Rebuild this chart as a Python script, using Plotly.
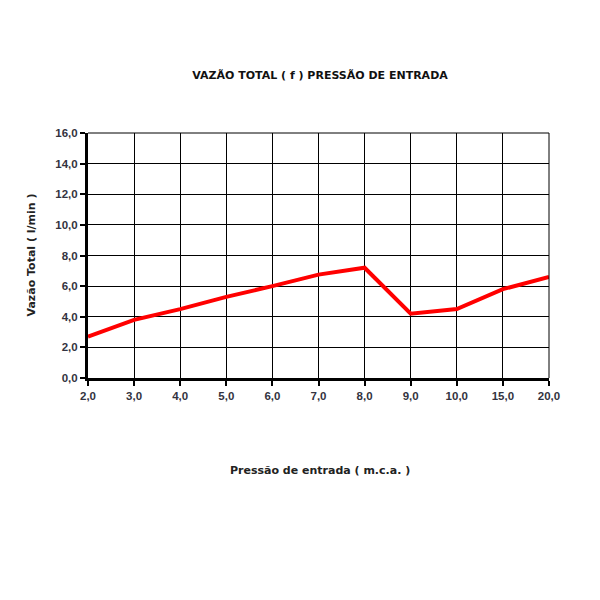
import plotly.graph_objects as go

# data
pressao = ["2,0", "3,0", "4,0", "5,0", "6,0", "7,0", "8,0", "9,0", "10,0", "15,0", "20,0"]
vazao = [2.7, 3.8, 4.5, 5.3, 6.0, 6.75, 7.2, 4.2, 4.5, 5.8, 6.6]
y_ticks = [0, 2, 4, 6, 8, 10, 12, 14, 16]
y_labels = ["0,0", "2,0", "4,0", "6,0", "8,0", "10,0", "12,0", "14,0", "16,0"]

fnt = "Liberation Sans, Arial, sans-serif"
tfnt = "DejaVu Sans, Verdana, sans-serif"

fig = go.Figure()
fig.add_trace(go.Scatter(x=pressao, y=vazao,
                         mode='lines',
                         line=dict(color='#ff0000', width=4),
                         showlegend=False))

# page body adds ~8px offset, margins compensate
fig.update_layout(
    width=600, height=600,
    margin=dict(l=80, r=59, t=125, b=230),
    paper_bgcolor='white',
    plot_bgcolor='white',
    title=dict(text="<b>VAZÃO TOTAL ( f ) PRESSÃO DE ENTRADA</b>",
               x=312 / 600, xanchor='center', y=1 - 67 / 600, yanchor='middle',
               font=dict(family=tfnt, size=11, color='#111')),
)

fig.update_xaxes(type='category', range=[0, len(pressao) - 1],
                 showgrid=True, gridcolor='black', gridwidth=1,
                 showline=True, linecolor='black', linewidth=3,
                 ticks='outside', ticklen=5, tickcolor='black', tickwidth=2,
                 tickfont=dict(family=fnt, size=11.5, color='#333340', weight='bold'),
                 zeroline=False, mirror=False)
fig.update_yaxes(range=[0, 16], tickvals=y_ticks, ticktext=y_labels,
                 showgrid=True, gridcolor='black', gridwidth=1,
                 showline=True, linecolor='black', linewidth=3,
                 ticks='outside', ticklen=5, tickcolor='black', tickwidth=2,
                 tickfont=dict(family=fnt, size=11.5, color='#333340', weight='bold'),
                 zeroline=False)

# right and top border lines (grid edge)
fig.add_shape(type='line', xref='paper', yref='paper', x0=1, x1=1, y0=0, y1=1,
              line=dict(color='black', width=1))
fig.add_shape(type='line', xref='paper', yref='paper', x0=0, x1=1, y0=1, y1=1,
              line=dict(color='black', width=1))

fig.add_annotation(text="<b>Pressão de entrada ( m.c.a. )</b>",
                   xref='paper', yref='paper', x=(320 - 88) / 461, y=-92 / 245,
                   xanchor='center', yanchor='middle', showarrow=False,
                   font=dict(family=tfnt, size=11, color='#222'))
fig.add_annotation(text="<b>Vazão Total ( l/min )</b>",
                   xref='paper', yref='paper', x=-57 / 461, y=0.5,
                   xanchor='center', yanchor='middle', textangle=-90, showarrow=False,
                   font=dict(family=tfnt, size=11, color='#222'))

fig.write_html("out.html")
